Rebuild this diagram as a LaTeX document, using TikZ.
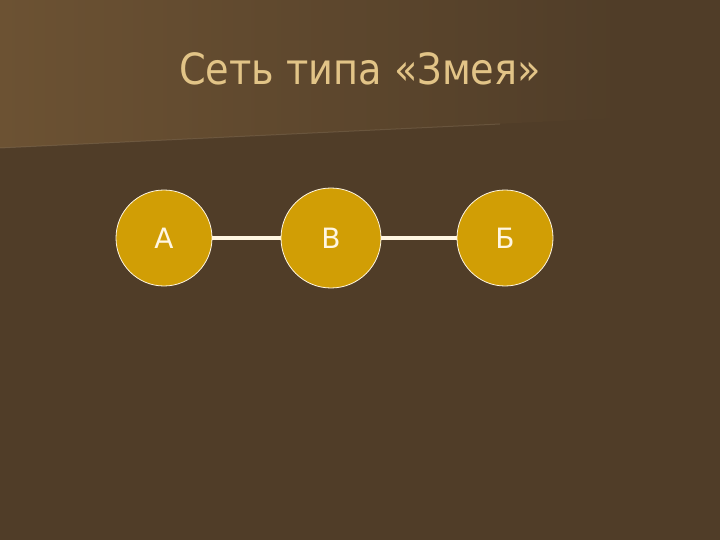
\documentclass[tikz,border=0pt]{standalone}
\usepackage{fontspec}
\setmainfont{DejaVu Sans}
\newfontfamily\titlefont[FakeStretch=0.89]{DejaVu Sans}
\definecolor{bgbrown}{HTML}{503D28}
\definecolor{lightbrown}{HTML}{6C5233}
\definecolor{titletan}{HTML}{E2C487}
\definecolor{nodegold}{HTML}{D19E05}
\definecolor{nodetext}{HTML}{FFF6E2}
\tikzset{
    station/.style={circle,draw=nodetext,line width=0.8pt,fill=nodegold,minimum size=96pt,inner sep=0pt,text=nodetext,font=\fontsize{28}{32}\selectfont},
    link/.style={nodetext,line width=4.5pt}
}
\begin{document}
\begin{tikzpicture}[x=1pt,y=-1pt]
                \useasboundingbox (0,0) rectangle (720,540);
                \fill[bgbrown] (0,0) rectangle (720,540);
                \shade[left color=lightbrown,right color=bgbrown] (0,0) -- (620,0) -- (620,118) -- (0,148) -- cycle;
                \draw[lightbrown!80!white,opacity=0.4,line width=1pt] (0,148) -- (500,124);
                \node[text=titletan,font=\titlefont\fontsize{43}{48}\selectfont] (title) at (360,69) {Сеть типа «Змея»};
                \node[station] (A) at (164,238) {А};
                \node[station,minimum width=100pt] (V) at (331,238) {В};
                \node[station] (B) at (505,238) {Б};
                \draw[link] (A) -- (V);
                \draw[link] (V) -- (B);
            \end{tikzpicture}
\end{document}
